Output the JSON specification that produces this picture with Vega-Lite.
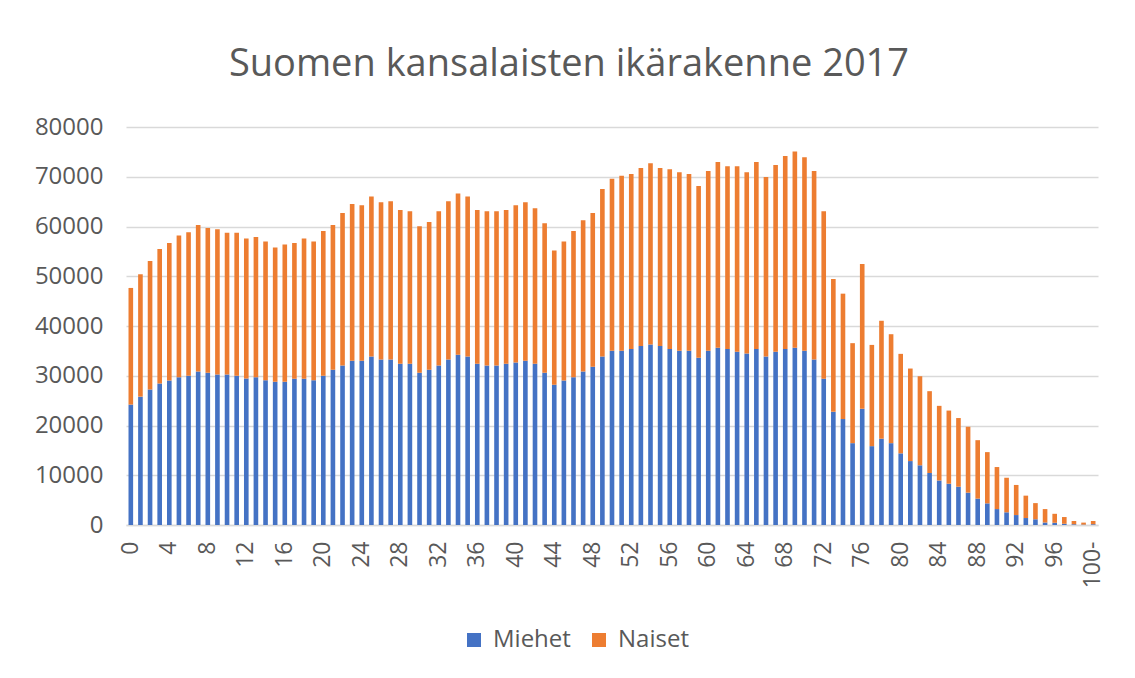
{
  "$schema": "https://vega.github.io/schema/vega-lite/v6.json",
  "width": 972,
  "height": 398,
  "autosize": {"type": "none"},
  "padding": {"left": 126, "top": 127, "right": 37, "bottom": 153},
  "background": "white",
  "title": {
    "text": "Suomen kansalaisten ikärakenne 2017",
    "font": "Open Sans",
    "fontSize": 38,
    "fontWeight": "normal",
    "color": "#595959",
    "anchor": "middle",
    "dx": -43,
    "offset": 31
  },
  "data": {
    "values": [
      {"ika": "0", "Miehet": 24200, "Naiset": 23450},
      {"ika": "1", "Miehet": 25800, "Naiset": 24600},
      {"ika": "2", "Miehet": 27250, "Naiset": 25800},
      {"ika": "3", "Miehet": 28450, "Naiset": 27050},
      {"ika": "4", "Miehet": 29050, "Naiset": 27650},
      {"ika": "5", "Miehet": 29700, "Naiset": 28500},
      {"ika": "6", "Miehet": 30000, "Naiset": 28850},
      {"ika": "7", "Miehet": 30850, "Naiset": 29450},
      {"ika": "8", "Miehet": 30600, "Naiset": 29100},
      {"ika": "9", "Miehet": 30250, "Naiset": 29200},
      {"ika": "10", "Miehet": 30250, "Naiset": 28500},
      {"ika": "11", "Miehet": 30000, "Naiset": 28750},
      {"ika": "12", "Miehet": 29450, "Naiset": 28150},
      {"ika": "13", "Miehet": 29700, "Naiset": 28200},
      {"ika": "14", "Miehet": 29100, "Naiset": 27900},
      {"ika": "15", "Miehet": 28800, "Naiset": 27000},
      {"ika": "16", "Miehet": 28800, "Naiset": 27600},
      {"ika": "17", "Miehet": 29400, "Naiset": 27300},
      {"ika": "18", "Miehet": 29400, "Naiset": 28200},
      {"ika": "19", "Miehet": 29100, "Naiset": 27900},
      {"ika": "20", "Miehet": 30000, "Naiset": 29100},
      {"ika": "21", "Miehet": 31200, "Naiset": 29100},
      {"ika": "22", "Miehet": 32050, "Naiset": 30650},
      {"ika": "23", "Miehet": 33000, "Naiset": 31500},
      {"ika": "24", "Miehet": 33000, "Naiset": 31250},
      {"ika": "25", "Miehet": 33850, "Naiset": 32200},
      {"ika": "26", "Miehet": 33250, "Naiset": 31600},
      {"ika": "27", "Miehet": 33250, "Naiset": 31850},
      {"ika": "28", "Miehet": 32400, "Naiset": 30900},
      {"ika": "29", "Miehet": 32400, "Naiset": 30650},
      {"ika": "30", "Miehet": 30600, "Naiset": 29450},
      {"ika": "31", "Miehet": 31200, "Naiset": 29700},
      {"ika": "32", "Miehet": 32050, "Naiset": 31000},
      {"ika": "33", "Miehet": 33250, "Naiset": 31850},
      {"ika": "34", "Miehet": 34200, "Naiset": 32450},
      {"ika": "35", "Miehet": 33850, "Naiset": 32200},
      {"ika": "36", "Miehet": 32400, "Naiset": 30900},
      {"ika": "37", "Miehet": 32050, "Naiset": 31000},
      {"ika": "38", "Miehet": 32050, "Naiset": 31000},
      {"ika": "39", "Miehet": 32400, "Naiset": 30900},
      {"ika": "40", "Miehet": 32650, "Naiset": 31600},
      {"ika": "41", "Miehet": 33000, "Naiset": 31850},
      {"ika": "42", "Miehet": 32400, "Naiset": 31250},
      {"ika": "43", "Miehet": 30600, "Naiset": 30050},
      {"ika": "44", "Miehet": 28200, "Naiset": 27000},
      {"ika": "45", "Miehet": 29050, "Naiset": 27950},
      {"ika": "46", "Miehet": 29700, "Naiset": 29400},
      {"ika": "47", "Miehet": 30850, "Naiset": 30400},
      {"ika": "48", "Miehet": 31800, "Naiset": 30900},
      {"ika": "49", "Miehet": 33850, "Naiset": 33700},
      {"ika": "50", "Miehet": 35050, "Naiset": 34550},
      {"ika": "51", "Miehet": 35050, "Naiset": 35150},
      {"ika": "52", "Miehet": 35400, "Naiset": 35150},
      {"ika": "53", "Miehet": 36000, "Naiset": 35750},
      {"ika": "54", "Miehet": 36300, "Naiset": 36400},
      {"ika": "55", "Miehet": 36000, "Naiset": 35750},
      {"ika": "56", "Miehet": 35400, "Naiset": 36100},
      {"ika": "57", "Miehet": 35050, "Naiset": 35850},
      {"ika": "58", "Miehet": 35050, "Naiset": 35500},
      {"ika": "59", "Miehet": 33600, "Naiset": 34550},
      {"ika": "60", "Miehet": 35050, "Naiset": 36100},
      {"ika": "61", "Miehet": 35650, "Naiset": 37300},
      {"ika": "62", "Miehet": 35400, "Naiset": 36700},
      {"ika": "63", "Miehet": 34800, "Naiset": 37300},
      {"ika": "64", "Miehet": 34450, "Naiset": 36450},
      {"ika": "65", "Miehet": 35400, "Naiset": 37550},
      {"ika": "66", "Miehet": 33850, "Naiset": 36100},
      {"ika": "67", "Miehet": 34800, "Naiset": 37550},
      {"ika": "68", "Miehet": 35400, "Naiset": 38750},
      {"ika": "69", "Miehet": 35650, "Naiset": 39450},
      {"ika": "70", "Miehet": 35050, "Naiset": 38850},
      {"ika": "71", "Miehet": 33250, "Naiset": 37900},
      {"ika": "72", "Miehet": 29400, "Naiset": 33650},
      {"ika": "73", "Miehet": 22750, "Naiset": 26700},
      {"ika": "74", "Miehet": 21300, "Naiset": 25200},
      {"ika": "75", "Miehet": 16450, "Naiset": 20100},
      {"ika": "76", "Miehet": 23350, "Naiset": 29100},
      {"ika": "77", "Miehet": 15850, "Naiset": 20350},
      {"ika": "78", "Miehet": 17350, "Naiset": 23700},
      {"ika": "79", "Miehet": 16450, "Naiset": 21900},
      {"ika": "80", "Miehet": 14400, "Naiset": 20000},
      {"ika": "81", "Miehet": 12850, "Naiset": 18600},
      {"ika": "82", "Miehet": 12000, "Naiset": 17900},
      {"ika": "83", "Miehet": 10450, "Naiset": 16450},
      {"ika": "84", "Miehet": 8950, "Naiset": 15000},
      {"ika": "85", "Miehet": 8300, "Naiset": 14700},
      {"ika": "86", "Miehet": 7700, "Naiset": 13800},
      {"ika": "87", "Miehet": 6500, "Naiset": 13250},
      {"ika": "88", "Miehet": 5300, "Naiset": 11750},
      {"ika": "89", "Miehet": 4350, "Naiset": 10300},
      {"ika": "90", "Miehet": 3200, "Naiset": 8450},
      {"ika": "91", "Miehet": 2550, "Naiset": 6950},
      {"ika": "92", "Miehet": 2000, "Naiset": 6050},
      {"ika": "93", "Miehet": 1400, "Naiset": 4500},
      {"ika": "94", "Miehet": 1150, "Naiset": 3250},
      {"ika": "95", "Miehet": 500, "Naiset": 2700},
      {"ika": "96", "Miehet": 450, "Naiset": 1800},
      {"ika": "97", "Miehet": 250, "Naiset": 1350},
      {"ika": "98", "Miehet": 150, "Naiset": 650},
      {"ika": "99", "Miehet": 80, "Naiset": 400},
      {"ika": "100-", "Miehet": 150, "Naiset": 650}
    ]
  },
  "transform": [
    {"fold": ["Miehet", "Naiset"], "as": ["sukupuoli", "maara"]}
  ],
  "mark": {"type": "bar"},
  "encoding": {
    "x": {
      "field": "ika",
      "type": "nominal",
      "sort": null,
      "scale": {"paddingInner": 0.52, "paddingOuter": 0.26},
      "axis": {
        "title": null,
        "labelAngle": -90,
        "labelExpr": "datum.value == '100-' || toNumber(datum.value) % 4 == 0 ? datum.value : ''",
        "labelFont": "Open Sans",
        "labelFontSize": 23,
        "labelColor": "#595959",
        "labelPadding": 16,
        "ticks": false,
        "domainColor": "#D9D9D9",
        "domainWidth": 1.5,
        "labelOverlap": false
      }
    },
    "y": {
      "field": "maara",
      "type": "quantitative",
      "stack": "zero",
      "scale": {"domain": [0, 80000], "nice": false},
      "axis": {
        "title": null,
        "values": [0, 10000, 20000, 30000, 40000, 50000, 60000, 70000, 80000],
        "format": "d",
        "labelFont": "Open Sans",
        "labelFontSize": 24,
        "labelColor": "#595959",
        "labelPadding": 23,
        "ticks": false,
        "domain": false,
        "grid": true,
        "gridColor": "#D9D9D9",
        "gridWidth": 1.5
      }
    },
    "color": {
      "field": "sukupuoli",
      "type": "nominal",
      "scale": {"domain": ["Miehet", "Naiset"], "range": ["#4472C4", "#ED7D31"]},
      "legend": {
        "title": null,
        "orient": "none",
        "direction": "horizontal",
        "legendX": 336,
        "legendY": 501,
        "symbolType": "square",
        "symbolSize": 196,
        "symbolStrokeWidth": 0,
        "labelFont": "Open Sans",
        "labelFontSize": 24,
        "labelColor": "#595959",
        "columnPadding": 16,
        "labelOffset": 7
      }
    },
    "order": {"field": "sukupuoli", "sort": "ascending"}
  },
  "config": {
    "view": {"stroke": null}
  }
}
